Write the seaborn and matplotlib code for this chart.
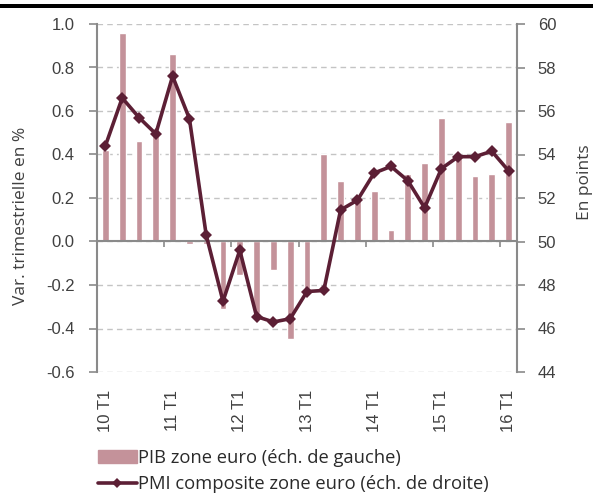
import numpy as np
import pandas as pd
import matplotlib.pyplot as plt
from matplotlib.lines import Line2D
from matplotlib.patches import Patch, Rectangle
import seaborn as sns

sns.set_style("white")
plt.rcParams["font.family"] = ["Liberation Sans", "DejaVu Sans"]
plt.rcParams["axes.unicode_minus"] = False

# ---- Data ----
quarters = [f"{y} T{q}" for y in range(10, 17) for q in range(1, 5)][:25]
pib = [0.42, 0.96, 0.46, 0.50, 0.86, -0.01, -0.01, -0.31, -0.155, -0.33,
       -0.13, -0.45, -0.22, 0.40, 0.28, 0.19, 0.23, 0.055, 0.31, 0.36,
       0.57, 0.39, 0.30, 0.31, 0.55]
pmi = [54.4, 56.6, 55.7, 54.95, 57.6, 55.65, 50.3, 47.25, 49.6, 46.55,
       46.3, 46.45, 47.7, 47.75, 51.45, 51.9, 53.15, 53.45, 52.8, 51.55,
       53.35, 53.9, 53.9, 54.15, 53.25]
left_ticks = [-0.6, -0.4, -0.2, 0.0, 0.2, 0.4, 0.6, 0.8, 1.0]
right_ticks = [44, 46, 48, 50, 52, 54, 56, 58, 60]
label_pib = "PIB zone euro (éch. de gauche)"
label_pmi = "PMI composite zone euro (éch. de droite)"

df = pd.DataFrame({"trimestre": quarters, "pib": pib, "pmi": pmi})

bar_color = "#c4929a"
line_color = "#5c1f35"
axis_grey = "#8a8a8a"
text_grey = "#404040"
label_font = ["Open Sans", "DejaVu Sans"]

fig = plt.figure(figsize=(5.93, 4.95), dpi=100)
ax = fig.add_axes([97 / 593, 1 - 372 / 495, 420 / 593, 348 / 495])

sns.barplot(data=df, x="trimestre", y="pib", color=bar_color, saturation=1,
            width=0.4, ax=ax)
ax.set_axisbelow(True)
ax.yaxis.grid(True, ls=(0, (4, 3)), color="#c4c4c4", lw=1)
ax.axhline(0, color=axis_grey, lw=1.5, zorder=3)
ax.vlines(np.arange(3.5, 24, 4), -0.025, 0, color=axis_grey, lw=1.2, zorder=3)

ax.set_ylim(-0.6, 1.0)
ax.set_yticks(left_ticks)
ax.set_yticklabels([f"{v:.1f}" for v in left_ticks])
ax.set_xlim(-0.5, 24.5)
ax.set_xticks(range(0, 25, 4))
ax.set_xticklabels(quarters[::4], rotation=90)
ax.tick_params(axis="x", length=0, pad=13, labelsize=12, labelcolor=text_grey)
ax.tick_params(axis="y", length=6, width=1.2, color=axis_grey, direction="out",
               pad=10, labelsize=12, labelcolor=text_grey, left=True)
ax.set_xlabel("")
ax.set_ylabel("Var. trimestrielle en %", fontsize=12.5, color=text_grey,
              family=label_font)
ax.yaxis.set_label_coords(-0.162, 0.45)
for s in ["top", "bottom", "right"]:
    ax.spines[s].set_visible(False)
ax.spines["left"].set_color(axis_grey)
ax.spines["left"].set_linewidth(1.5)

ax2 = ax.twinx()
sns.lineplot(x=df.index, y=df["pmi"], ax=ax2, color=line_color, lw=2.6,
             marker="D", markersize=6.5, markeredgewidth=0, sort=False)
ax2.set_ylim(44, 60)
ax2.set_yticks(right_ticks)
ax2.tick_params(axis="y", length=6, width=1.2, color=axis_grey, direction="out",
                pad=9, labelsize=12, labelcolor=text_grey, right=True)
ax2.set_ylabel("En points", fontsize=12.5, color=text_grey, family=label_font)
ax2.yaxis.set_label_coords(1.143, 0.546)
for s in ["top", "bottom", "left"]:
    ax2.spines[s].set_visible(False)
ax2.spines["right"].set_color(axis_grey)
ax2.spines["right"].set_linewidth(1.5)
ax2.set_xlim(-0.5, 24.5)

# ---- Legend ----
handles = [Patch(color=bar_color),
           Line2D([], [], color=line_color, lw=2.6, marker="D", markersize=5,
                  markeredgewidth=0)]
fig.legend(handles, [label_pib, label_pmi], loc="upper left",
           bbox_to_anchor=(98 / 593, 1 - 449 / 495), frameon=False,
           prop={"family": label_font, "size": 13.2}, labelcolor="#2a2a2a",
           handlelength=2.1, handletextpad=0.1, borderpad=0, borderaxespad=0,
           labelspacing=0.45)

# top rule
fig.add_artist(Rectangle((0, 1 - 8 / 495), 1, 4 / 495, transform=fig.transFigure,
                         color="black", lw=0))

fig.savefig("out.png", dpi=100)
